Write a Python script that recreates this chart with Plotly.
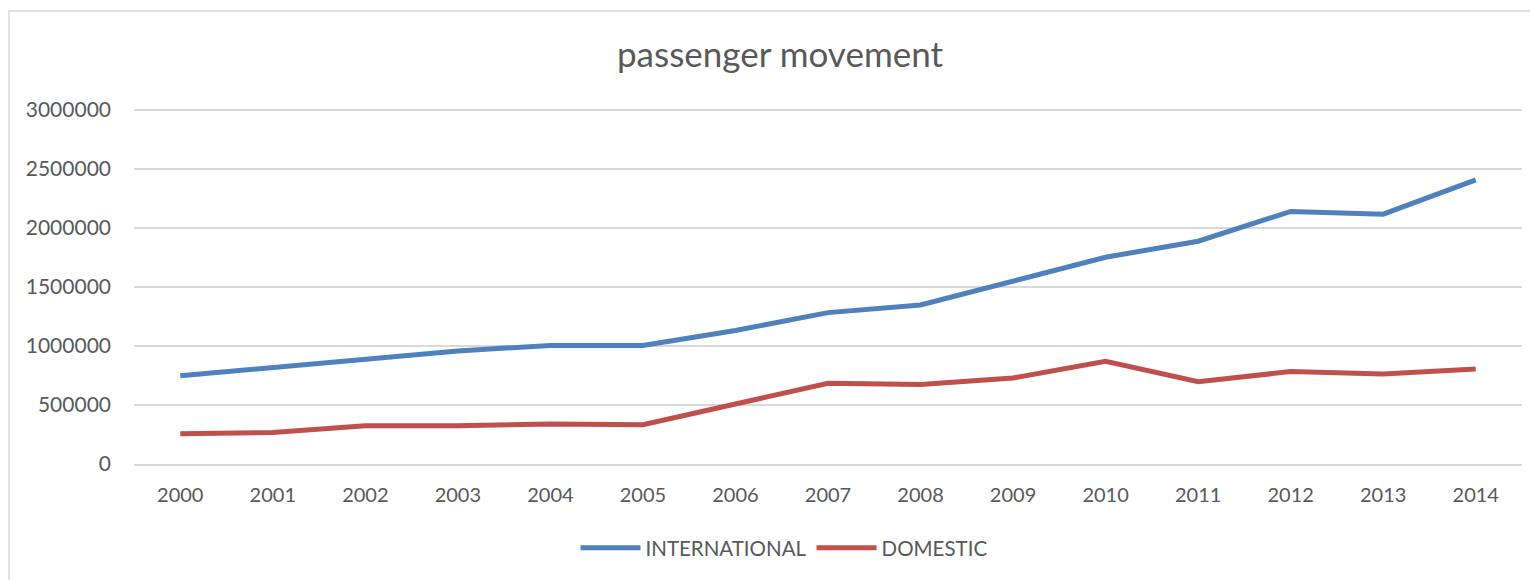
import plotly.graph_objects as go

years = ["2000", "2001", "2002", "2003", "2004", "2005", "2006", "2007",
         "2008", "2009", "2010", "2011", "2012", "2013", "2014"]
international = [748000, 816000, 887000, 958000, 1005000, 1005000, 1131000, 1283000,
                 1348000, 1545000, 1752000, 1888000, 2140000, 2117000, 2408000]
domestic = [257000, 266000, 325000, 325000, 339000, 333000, 509000, 684000,
            673000, 729000, 870000, 698000, 783000, 763000, 806000]
y_ticks = [0, 500000, 1000000, 1500000, 2000000, 2500000, 3000000]

W, H = 1530, 580
L, R, T, B = 134, 8, 107, 116
pw, ph = W - L - R, H - T - B
# headroom above the top tick so its gridline is drawn inside the plot area
y_top = 3000000 * ph / (ph - 3)

FONT = "Lato, 'Open Sans', sans-serif"
TEXT = "#595959"
GRID = "#D9D9D9"

fig = go.Figure()
fig.add_trace(go.Scatter(x=years, y=international, name="INTERNATIONAL", mode="lines",
                         line=dict(color="#4F81BD", width=5, shape="linear")))
fig.add_trace(go.Scatter(x=years, y=domestic, name="DOMESTIC", mode="lines",
                         line=dict(color="#C0504D", width=5, shape="linear")))

# chart frame
fig.add_shape(type="rect", xref="paper", yref="paper",
              x0=(9 - L) / pw, x1=(W + 5 - L) / pw,
              y0=-(H + 5 - T - ph) / ph, y1=(T + ph - 11) / ph,
              line=dict(color=GRID, width=1.5), fillcolor="rgba(0,0,0,0)", layer="below")

fig.update_layout(
    width=W, height=H,
    margin=dict(l=L, r=R, t=T, b=B),
    paper_bgcolor="white", plot_bgcolor="white",
    font=dict(family=FONT, color=TEXT),
    title=dict(text="passenger movement", x=780 / W, xref="container", xanchor="center",
               y=1 - 55 / H, yref="container", yanchor="middle",
               font=dict(family=FONT, size=35, color=TEXT)),
    xaxis=dict(type="category", range=[-0.5, 14.5], showgrid=False,
               showline=True, linecolor=GRID, linewidth=1.5,
               ticks="", tickfont=dict(size=20, color=TEXT), ticklabelstandoff=12,
               fixedrange=True),
    yaxis=dict(range=[0, y_top], tickvals=y_ticks,
               ticktext=[str(v) for v in y_ticks],
               showgrid=True, gridcolor=GRID, gridwidth=1.5, zeroline=False,
               showline=False, ticks="", tickfont=dict(size=21, color=TEXT),
               ticklabelstandoff=22, fixedrange=True),
    legend=dict(orientation="h", x=784 / W, xref="container", xanchor="center",
                y=1 - 548 / H, yref="container", yanchor="middle",
                font=dict(family=FONT, size=20.5, color=TEXT),
                itemwidth=60, traceorder="normal"),
    showlegend=True,
)

fig.write_html("out.html")
